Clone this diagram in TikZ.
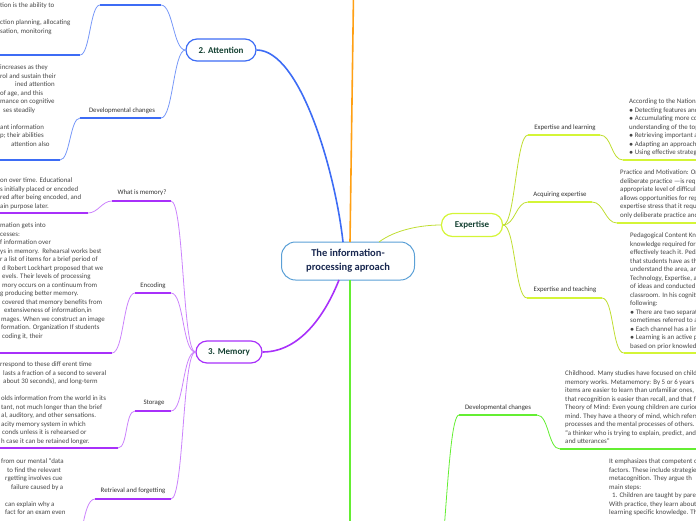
\documentclass[tikz,border=0pt]{standalone}
\usepackage{fontspec}
\setmainfont{Carlito}

\definecolor{rootblue}{RGB}{91,160,214}
\definecolor{rootnavy}{RGB}{25,40,80}
\definecolor{titlegreen}{RGB}{20,65,50}
\definecolor{attblue}{RGB}{61,108,245}
\definecolor{mempurple}{RGB}{168,48,250}
\definecolor{expyellow}{RGB}{212,245,55}
\definecolor{devgreen}{RGB}{100,238,50}
\definecolor{toporange}{RGB}{255,160,20}
\definecolor{labelgray}{RGB}{50,50,50}
\definecolor{notegray}{RGB}{70,70,70}

% indent of a line whose start is cut off
\newcommand{\cutind}[1]{\rule{#1}{0pt}}

\tikzset{
  topic/.style={draw=rootblue, line width=1pt, rounded corners=14pt,
    minimum width=133pt, minimum height=38pt, align=center, text=rootnavy,
    font=\fontsize{10.5}{14}\selectfont\bfseries},
  branch/.style={line width=1.2pt, rounded corners=11pt, minimum height=22pt,
    text=titlegreen, font=\fontsize{9}{11}\selectfont\bfseries},
  sublabel/.style={inner sep=0pt, text=labelgray, font=\fontsize{6.8}{8}\selectfont},
  notes/.style={inner sep=0pt, anchor=north west, align=left, text=notegray,
    font=\fontsize{6.9}{8.5}\selectfont},
  limb/.style={line width=0.8pt},
  mainlimb/.style={line width=1.6pt},
  uline/.style={line width=2pt}
}

\begin{document}
\begin{tikzpicture}[x=1pt,y=-1pt]
    \useasboundingbox (0,0) rectangle (696,520);
    \clip (0,0) rectangle (696,520);

    % Central topic and main branches
    \node[topic] (root) at (348,261) {The information-\\processing aproach};
    \node[branch, draw=attblue, minimum width=70pt] (att) at (221,50) {2. Attention};
    \node[branch, draw=mempurple, minimum width=66pt] (mem) at (229,352) {3. Memory};
    \node[branch, draw=expyellow, minimum width=61pt, minimum height=23pt] (exp) at (472,225) {Expertise};
    \coordinate (uptopic) at (354,-40);
    \coordinate (downtopic) at (350,560);

    \draw[mainlimb, attblue] (343,242) .. controls (335,170) and (300,50) .. (att.east);
    \draw[mainlimb, toporange] (350,242) -- (uptopic);
    \draw[mainlimb, mempurple] (339,280) .. controls (325,315) and (300,352) .. (mem.east);
    \draw[limb, expyellow!90!black] (379,242) .. controls (395,230) and (420,225) .. (exp.west);
    \draw[mainlimb, devgreen] (350,280) -- (downtopic);

    % 2. Attention
    % -- first child (label above the picture)
    \coordinate (attaR) at (161,5);
    \coordinate (attaL) at (100,5);
    \coordinate (attaN) at (80,55);
    \coordinate (attaE) at (-5,55);
    \draw[uline, attblue] (attaL) -- (attaR);
    \draw[limb, attblue!70] (att.west) .. controls +(-12,0) and +(12,0) .. (attaR);
    \draw[limb, attblue!70] (attaL) .. controls +(-10,0) and +(10,0) .. (attaN);
    \draw[uline, attblue] (attaN) -- (attaE);
    \node[notes] (attanote) at (0,2.6) {tion is the ability to\\ \\ction planning, allocating\\sation, monitoring};

    % -- developmental changes
    \node[sublabel] (attdev) at (122,111) {Developmental changes};
    \coordinate (attbR) at (161,118);
    \coordinate (attbL) at (80,118);
    \coordinate (attbN) at (60,160);
    \coordinate (attbE) at (-5,160);
    \draw[uline, attblue] (attbL) -- (attbR);
    \draw[limb, attblue!70] (att.west) .. controls +(-12,0) and +(12,0) .. (attbR);
    \draw[limb, attblue!70] (attbL) .. controls +(-10,0) and +(10,0) .. (attbN);
    \draw[uline, attblue] (attbN) -- (attbE);
    \node[notes] (attbnote) at (0,64.6) {increases as they\\rol and sustain their\\\cutind{15pt}ined attention\\of age, and this\\mance on cognitive\\\cutind{3pt}ses steadily\\ \\ant information\\p; their abilities\\\cutind{11pt}attention also};

    % 3. Memory
    % -- what is memory?
    \node[sublabel] (memwhat) at (142,193) {What is memory?};
    \coordinate (whatR) at (171,201);
    \coordinate (whatL) at (112,201);
    \coordinate (whatN) at (88,213);
    \coordinate (whatE) at (-5,213);
    \draw[uline, mempurple] (whatL) -- (whatR);
    \draw[limb, mempurple!60] (mem.west) .. controls +(-13,0) and +(13,0) .. (whatR);
    \draw[limb, mempurple!60] (whatL) .. controls +(-10,0) and +(10,0) .. (whatN);
    \draw[uline, mempurple] (whatN) -- (whatE);
    \node[notes] (whatnote) at (0,177.6) {on over time. Educational\\s initially placed or encoded\\red after being encoded, and\\ain purpose later.};

    % -- encoding
    \node[sublabel] (memenc) at (153,286) {Encoding};
    \coordinate (encR) at (171,293);
    \coordinate (encL) at (135,293);
    \coordinate (encN) at (112,353);
    \coordinate (encE) at (-5,353);
    \draw[uline, mempurple] (encL) -- (encR);
    \draw[limb, mempurple!60] (mem.west) .. controls +(-13,0) and +(13,0) .. (encR);
    \draw[limb, mempurple!60] (encL) .. controls +(-12,0) and +(12,0) .. (encN);
    \draw[uline, mempurple] (encN) -- (encE);
    \node[notes] (encnote) at (0,222.6) {mation gets into\\cesses:\\f information over\\ys in memory.\ \ Rehearsal works best\\r a list of items for a brief period of\\\cutind{2pt}d Robert Lockhart proposed that we\\\cutind{2pt}evels. Their levels of processing\\\cutind{2pt}mory occurs on a continuum from\\g producing better memory.\\\cutind{2pt}covered that memory benefits from\\\cutind{4pt}extensiveness of information,in\\\cutind{1pt}mages. When we construct an image\\\cutind{1pt}formation. Organization If students\\\cutind{2pt}coding it, their};

    % -- storage
    \node[sublabel] (memsto) at (154,403) {Storage};
    \coordinate (stoR) at (171,411);
    \coordinate (stoL) at (135,411);
    \coordinate (stoN) at (118,448);
    \coordinate (stoE) at (-5,448);
    \draw[uline, mempurple] (stoL) -- (stoR);
    \draw[limb, mempurple!60] (mem.west) .. controls +(-13,0) and +(13,0) .. (stoR);
    \draw[limb, mempurple!60] (stoL) .. controls +(-10,0) and +(10,0) .. (stoN);
    \draw[uline, mempurple] (stoN) -- (stoE);
    \node[notes] (stonote) at (0,361.6) {rrespond to these diff erent time\\\cutind{3pt}lasts a fraction of a second to several\\\cutind{3pt}about 30 seconds), and long-term\\ \\\cutind{1pt}olds information from the world in its\\\cutind{1pt}tant, not much longer than the brief\\\cutind{1pt}al, auditory, and other sensations.\\\cutind{1pt}acity memory system in which\\\cutind{2pt}conds unless it is rehearsed or\\\cutind{1pt}h case it can be retained longer.};

    % -- retrieval and forgetting
    \node[sublabel] (memret) at (133,491) {Retrieval and forgetting};
    \coordinate (retR) at (171,499);
    \coordinate (retL) at (95,499);
    \coordinate (retN) at (72,560);
    \draw[uline, mempurple] (retL) -- (retR);
    \draw[limb, mempurple!60] (mem.west) .. controls +(-13,0) and +(13,0) .. (retR);
    \draw[limb, mempurple!60] (retL) .. controls +(-14,0) and +(10,0) .. (retN);
    \node[notes] (retnote) at (0,458.6) {\cutind{1pt}from our mental ``data\\\cutind{7pt}to find the relevant\\\cutind{5pt}rgetting involves cue\\\cutind{11pt}failure caused by a\\ \\\cutind{5pt}can explain why a\\\cutind{5pt}fact for an exam even};

    % Expertise
    % -- expertise and learning
    \node[sublabel] (explearn) at (565,128) {Expertise and learning};
    \coordinate (learnL) at (528,135);
    \coordinate (learnR) at (600,135);
    \coordinate (learnN) at (623,160);
    \coordinate (learnE) at (700,160);
    \draw[uline, expyellow] (learnL) -- (learnR);
    \draw[limb, expyellow!90!black] (exp.east) .. controls +(12,0) and +(-12,0) .. (learnL);
    \draw[limb, expyellow!90!black] (learnR) .. controls +(12,0) and +(-12,0) .. (learnN);
    \draw[uline, expyellow] (learnN) -- (learnE);
    \node[notes] (learnnote) at (629,98.6) {According to the Nationa\\$\bullet$ Detecting features and\\$\bullet$ Accumulating more co\\understanding of the top\\$\bullet$ Retrieving important a\\$\bullet$ Adapting an approach\\$\bullet$ Using effective strateg};

    % -- acquiring expertise
    \node[sublabel] (expacq) at (560,195) {Acquiring expertise};
    \coordinate (acqL) at (528,202);
    \coordinate (acqR) at (592,202);
    \coordinate (acqN) at (617,223);
    \coordinate (acqE) at (700,223);
    \draw[uline, expyellow] (acqL) -- (acqR);
    \draw[limb, expyellow!90!black] (exp.east) .. controls +(12,0) and +(-12,0) .. (acqL);
    \draw[limb, expyellow!90!black] (acqR) .. controls +(12,0) and +(-12,0) .. (acqN);
    \draw[uline, expyellow] (acqN) -- (acqE);
    \node[notes] (acqnote) at (620,169.6) {Practice and Motivation: Or\\deliberate practice ---is req\\appropriate level of difficul\\allows opportunities for rep\\expertise stress that it requ\\only deliberate practice and};

    % -- expertise and teaching
    \node[sublabel] (expteach) at (565,290) {Expertise and teaching};
    \coordinate (teachL) at (527,298);
    \coordinate (teachR) at (602,298);
    \coordinate (teachN) at (624,353);
    \coordinate (teachE) at (700,353);
    \draw[uline, expyellow] (teachL) -- (teachR);
    \draw[limb, expyellow!90!black] (exp.east) .. controls +(12,0) and +(-12,0) .. (teachL);
    \draw[limb, expyellow!90!black] (teachR) .. controls +(12,0) and +(-12,0) .. (teachN);
    \draw[uline, expyellow] (teachN) -- (teachE);
    \node[notes] (teachnote) at (630,232.6) {Pedagogical Content Kn\\knowledge required for\\effectively teach it. Peda\\that students have as th\\understand the area, an\\Technology, Expertise, a\\of ideas and conducted\\classroom. In his cogniti\\following:\\$\bullet$ There are two separat\\sometimes referred to a\\$\bullet$ Each channel has a lin\\$\bullet$ Learning is an active p\\based on prior knowledg};

    % Developmental changes (topic below the picture)
    \coordinate (greenhub) at (425,640);
    \node[sublabel] (gdev) at (498,408) {Developmental changes};
    \coordinate (gdevL) at (459,415);
    \coordinate (gdevR) at (537,415);
    \coordinate (gdevN) at (560,449);
    \coordinate (gdevE) at (700,449);
    \draw[uline, devgreen] (gdevL) -- (gdevR);
    \draw[limb, devgreen] (greenhub) .. controls +(20,0) and +(-14,0) .. (gdevL);
    \draw[limb, devgreen] (gdevR) .. controls +(12,0) and +(-12,0) .. (gdevN);
    \draw[uline, devgreen] (gdevN) -- (gdevE);
    \node[notes] (gdevnote) at (565,370.6) {Childhood. Many studies have focused on childr\\memory works. Metamemory: By 5 or 6 years\\items are easier to learn than unfamiliar ones,\\that recognition is easier than recall, and that f\\Theory of Mind: Even young children are curious\\mind. They have a theory of mind, which refers\\processes and the mental processes of others.\\``a thinker who is trying to explain, predict, and u\\and utterances''};
    \node[notes] (compnote) at (609,458.6) {It emphasizes that competent c\\factors. These include strategie\\metacognition. They argue th\\main steps:\\\cutind{3pt}1. Children are taught by paren\\With practice, they learn about\\learning specific knowledge. Th};
\end{tikzpicture}
\end{document}
